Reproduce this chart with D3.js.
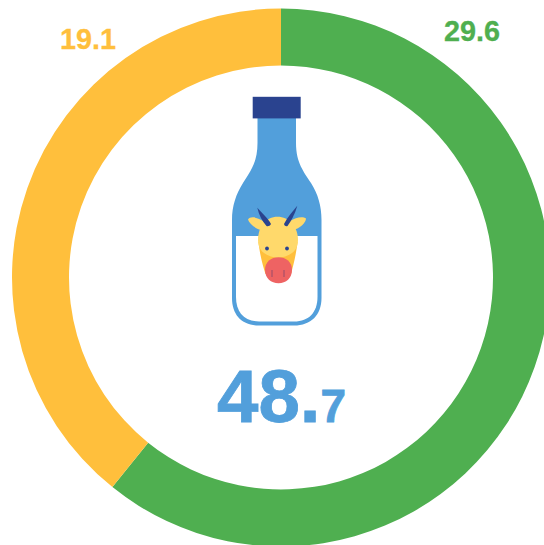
<!DOCTYPE html>
<html><head><meta charset="utf-8">
<script src="https://cdn.jsdelivr.net/npm/d3@7"></script>
<style>html,body{margin:0;padding:0;background:#fff;overflow:hidden}svg{display:block}text{font-family:"Liberation Sans",Arial,sans-serif;font-weight:700}</style>
</head><body>
<svg id="c" width="544" height="545"></svg>
<script>
const categories = ["Green", "Yellow"];
const values = [29.6, 19.1];
const colors = ["#4FAF50", "#FFBF3C"];
const totalWhole = "48.";
const totalFrac = "7";

const svg = d3.select("#c");
const cx = 281, cy = 277.5, rO = 269, rI = 212;
const pie = d3.pie().sort(null).value(d => d)(values);
const arc = d3.arc().innerRadius(rI).outerRadius(rO);
svg.append("g").attr("transform", `translate(${cx},${cy})`)
  .selectAll("path").data(pie).join("path")
  .attr("d", arc).attr("fill", (d, i) => colors[i]);

const labelPos = [[444, 40.5], [60, 48.5]];
svg.selectAll("text.v").data(values).join("text").attr("class", "v")
  .attr("x", (d, i) => labelPos[i][0]).attr("y", (d, i) => labelPos[i][1])
  .attr("font-size", 28.8).attr("fill", (d, i) => colors[i])
  .attr("stroke", (d, i) => colors[i]).attr("stroke-width", 0.3)
  .text(d => d3.format(".1f")(d));

const t = svg.append("text").attr("x", 217).attr("y", 421.5).attr("fill", "#529FDB")
  .attr("stroke", "#529FDB").attr("stroke-width", 0.8);
t.append("tspan").attr("font-size", 74.5).text(totalWhole);
t.append("tspan").attr("font-size", 46).text(totalFrac);

// bottle icon
const g = svg.append("g");
const blue = "#529FDB", navy = "#2A438F";
const body = "M257.5 116 L296 116 L296 143 C296 163 304 172 311 183 C318 194 321.5 206 321.5 220 L321.5 298 C321.5 315 311 325.5 294 325.5 L259 325.5 C242 325.5 232 315 232 298 L232 220 C232 206 236 194 243 183 C250 172 257.5 163 257.5 143 Z";
g.append("path").attr("d", body).attr("fill", blue);
g.append("path").attr("d", "M236 236 L317.5 236 L317.5 297 C317.5 312 309 321.5 294 321.5 L259 321.5 C244 321.5 236 312 236 297 Z").attr("fill", "#fff");
g.append("rect").attr("x", 252.7).attr("y", 96.8).attr("width", 48).attr("height", 21.6).attr("fill", navy);
// ears
g.append("path").attr("d", "M262 230 C255 229 249 223 248 219.5 C250 216 257 217 263 221 L268 225 Z").attr("fill", "#FFD96B");
g.append("path").attr("d", "M293 230 C300 229 306 222 306 218.5 C303 216 296 217 290 221 L286 225 Z").attr("fill", "#FFD96B");
// orange underside, face
g.append("path").attr("d", "M258.5 242 C260 256 263 266 265.5 274 L291 274 C293 266 296 256 297.5 242 Z").attr("fill", "#FFBF3C");
g.append("path").attr("d", "M258 240 C258 227 266 216.8 277.5 216.8 C289 216.8 298 227 298 240 C298 250 292 256 278 258 C264 256 258 250 258 240 Z").attr("fill", "#FFD96B");
// horns
g.append("path").attr("d", "M257.3 207.7 C262 213 268 218 271 224 C270 226 268 226.5 266.5 226 C262 221 259 215 257.3 207.7 Z").attr("fill", navy);
g.append("path").attr("d", "M297.3 205.7 C295 214 291 221 287.5 226 C286 226.5 284.5 226 284 224 C287 218 292 212 297.3 205.7 Z").attr("fill", navy);
// eyes
g.append("circle").attr("cx", 267).attr("cy", 248.5).attr("r", 1.9).attr("fill", navy);
g.append("circle").attr("cx", 287).attr("cy", 248.5).attr("r", 1.9).attr("fill", navy);
// muzzle
g.append("path").attr("d", "M265 270 C265 262 271 257.3 278.5 257.3 C286 257.3 292 262 292 270 C292 278 286 283.3 278.5 283.3 C271 283.3 265 278 265 270 Z").attr("fill", "#EE6363");
g.append("line").attr("x1", 272).attr("x2", 272).attr("y1", 270).attr("y2", 277).attr("stroke", "#9A4C6B").attr("stroke-width", 1);
g.append("line").attr("x1", 284).attr("x2", 284).attr("y1", 270).attr("y2", 277).attr("stroke", "#9A4C6B").attr("stroke-width", 1);
</script>
</body></html>
